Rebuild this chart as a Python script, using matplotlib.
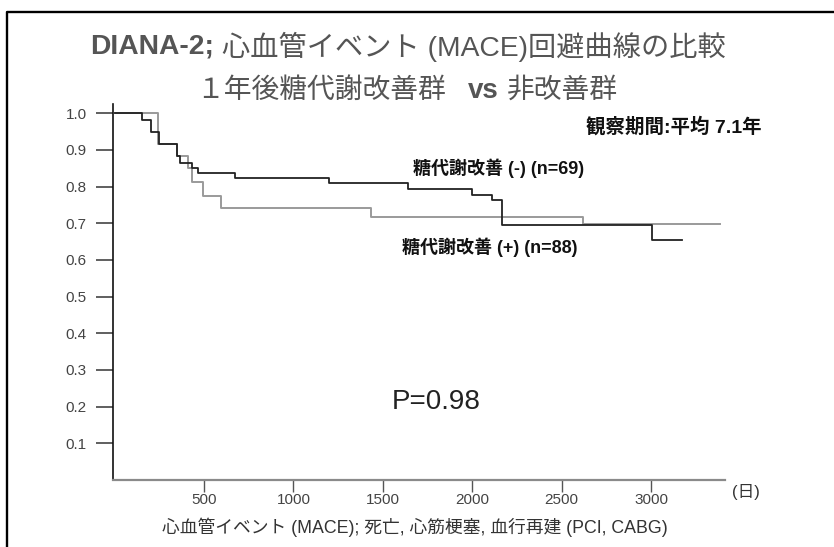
import matplotlib.pyplot as plt
from matplotlib.lines import Line2D

plt.rcParams['font.family'] = ['Liberation Sans', 'Noto Sans CJK JP', 'DejaVu Sans']

W, H = 834, 547

# Kaplan-Meier steps (days, event-free fraction)
days_minus = [0, 152, 202, 250, 347, 366, 431, 468, 673, 1201, 1641, 1997, 2109, 2165, 3004, 3172]
surv_minus = [1.0, 0.982, 0.950, 0.916, 0.882, 0.864, 0.851, 0.837, 0.823, 0.811, 0.794, 0.777,
              0.764, 0.695, 0.654, 0.654]

days_plus = [0, 241, 347, 412, 431, 493, 595, 1432, 2618, 3386]
surv_plus = [1.0, 0.916, 0.882, 0.851, 0.813, 0.773, 0.741, 0.716, 0.698, 0.698]

x_ticks = [500, 1000, 1500, 2000, 2500, 3000]
y_ticks = [0.1, 0.2, 0.3, 0.4, 0.5, 0.6, 0.7, 0.8, 0.9, 1.0]
y_labels = ['0.1', '0.2', '0.3', '0.4', '0.5', '0.6', '0.7', '0.8', '0.9', '1.0']

fig = plt.figure(figsize=(W / 100, H / 100), dpi=100)
fig.patch.set_facecolor('white')


def fx(px):
    return px / W


def fy(py):
    return 1 - py / H


# outer frame (top and left edge only visible)
fig.add_artist(Line2D([fx(6.5), fx(6.5), fx(840)], [fy(560), fy(12), fy(12)],
                      color='black', lw=1.7, transform=fig.transFigure))

ax = fig.add_axes([fx(113), fy(480), (725 - 113) / W, (480 - 104) / H])

ax.step(days_plus, surv_plus, where='post', color='#9a9a9a', lw=1.4)
ax.step(days_minus, surv_minus, where='post', color='#222222', lw=1.3)

ax.set_xlim(-9, 3414)
ax.set_ylim(0, 1.025)
for s in ['top', 'right']:
    ax.spines[s].set_visible(False)
ax.spines['left'].set_color('#111111')
ax.spines['left'].set_linewidth(1.2)
ax.spines['bottom'].set_color('#8a8a8a')
ax.spines['bottom'].set_linewidth(1.6)

ax.set_xticks(x_ticks)
ax.set_xticklabels([str(t) for t in x_ticks])
ax.set_yticks(y_ticks)
ax.set_yticklabels(y_labels)
ax.tick_params(axis='y', length=12, width=1.2, pad=7, color='#444444',
               labelsize=11, labelcolor='#444444')
ax.tick_params(axis='x', length=8.5, width=1.0, pad=1, color='#555555',
               labelsize=11, labelcolor='#444444')

# annotations
fig.text(fx(762), fy(127), '観察期間:平均 7.1年', ha='right', va='center',
         fontsize=14, fontweight='bold', color='#111111')
fig.text(fx(413), fy(168), '糖代謝改善 (-) (n=69)', ha='left', va='center',
         fontsize=13, fontweight='bold', color='#111111')
fig.text(fx(402), fy(247), '糖代謝改善 (+) (n=88)', ha='left', va='center',
         fontsize=13, fontweight='bold', color='#111111')
fig.text(fx(436), fy(402), 'P=0.98', ha='center', va='center',
         fontsize=20, color='#222222')
fig.text(fx(732), fy(492), '(日)', ha='left', va='center',
         fontsize=12, color='#333333')
fig.text(fx(415), fy(527), '心血管イベント (MACE); 死亡, 心筋梗塞, 血行再建 (PCI, CABG)',
         ha='center', va='center', fontsize=12.8, color='#333333')


def put_line(pieces, cx, cy, size, color):
    # pieces: (text, weight, gap in px after it); centred as one line
    r = fig.canvas.get_renderer()
    objs = [fig.text(0, 0, s, fontsize=size, fontweight=w, color=color, va='center')
            for s, w, g in pieces]
    widths = [t.get_window_extent(r).width for t in objs]
    total = sum(widths) + sum(g for _, _, g in pieces)
    x = cx - total / 2
    for t, wd, (_, _, g) in zip(objs, widths, pieces):
        t.set_position((fx(x), fy(cy)))
        x += wd + g


put_line([('DIANA-2;', 'bold', 7), ('心血管イベント (MACE)回避曲線の比較', 'normal', 0)],
         408, 47, 20.3, '#555555')
put_line([('１年後糖代謝改善群', 'normal', 22), ('vs', 'bold', 8), ('非改善群', 'normal', 0)],
         407, 91, 20, '#555555')

fig.savefig('out.png', dpi=100)
